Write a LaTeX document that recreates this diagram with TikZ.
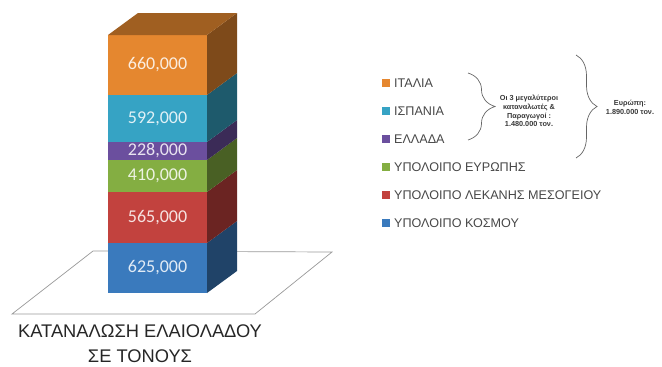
\documentclass[tikz,border=0pt]{standalone}
\usepackage{fontspec}
\setmainfont{Liberation Sans}
\newfontfamily\numfont{Carlito}
\usetikzlibrary{positioning,decorations.pathreplacing}
\definecolor{ita}{HTML}{E5872F}
\definecolor{isp}{HTML}{36A3C4}
\definecolor{ell}{HTML}{6B4F9E}
\definecolor{eur}{HTML}{84AE42}
\definecolor{mes}{HTML}{C2423E}
\definecolor{kos}{HTML}{3A7ABD}
\tikzset{
  floorln/.style={draw=gray!80, line width=0.7pt},
  val/.style={font=\numfont\fontsize{18}{18}\selectfont},
  legsq/.style={minimum size=7.5pt, inner sep=0pt},
  legtxt/.style={font=\fontsize{12.6}{12.6}\selectfont, text=black!72, inner sep=0pt},
  note/.style={font=\bfseries\fontsize{7.3}{8.8}\selectfont, align=center, text=black!78},
  brc/.style={decorate, decoration={brace, amplitude=#1}, draw=black!60, line width=0.7pt}
}
\begin{document}
\begin{tikzpicture}[x=1pt,y=-1pt]
  \useasboundingbox (0,0) rectangle (662,367);
  \filldraw[floorln, fill=white] (93,251) -- (332,252) -- (255,314) -- (12,314) -- cycle;
  \foreach \ya/\yb/\c/\v [count=\i] in {243/293/kos/{625,000}, 192/243/mes/{565,000},
      160/192/eur/{410,000}, 142/160/ell/{228,000}, 95/142/isp/{592,000}, 35/95/ita/{660,000}} {
    \fill[\c] (108,\ya) rectangle (207,\yb);
    \fill[\c!55!black] (207,\ya) -- ++(30,-22) -- (237,\yb-22) -- (207,\yb) -- cycle;
    \node[val, text=white!85!\c] (v\i) at (157.5,{(\ya+\yb)/2}) {\v};
  }
  \fill[ita!70!black] (108,35) -- (138,13) -- (237,13) -- (207,35) -- cycle;
  \node[font=\fontsize{18.3}{25}\selectfont, align=center, text=black!85] (title) at (140,344)
    {ΚΑΤΑΝΑΛΩΣΗ ΕΛΑΙΟΛΑΔΟΥ\\ΣΕ ΤΟΝΟΥΣ};
  \foreach \c/\t [count=\i] in {ita/ΙΤΑΛΙΑ, isp/ΙΣΠΑΝΙΑ, ell/ΕΛΛΑΔΑ, eur/ΥΠΟΛΟΙΠΟ ΕΥΡΩΠΗΣ,
      mes/ΥΠΟΛΟΙΠΟ ΛΕΚΑΝΗΣ ΜΕΣΟΓΕΙΟΥ, kos/ΥΠΟΛΟΙΠΟ ΚΟΣΜΟΥ} {
    \node[legsq, fill=\c] (sq\i) at (386,{83+28*(\i-1)}) {};
    \node[legtxt, right=4pt of sq\i] (lg\i) {\t};
  }
  \coordinate (b1a) at (468,73);
  \coordinate (b1b) at (468,140);
  \draw[brc=27] (b1a) -- (b1b);
  \node[note] (top3) at (529,111) {Οι 3 μεγαλύτεροι\\καταναλωτές \&\\Παραγωγοί :\\1.480.000 τον.};
  \coordinate (b2a) at (576,55);
  \coordinate (b2b) at (576,158);
  \draw[brc=21] (b2a) -- (b2b);
  \node[note] (europe) at (630,107) {Ευρώπη:\\1.890.000 τον.};
\end{tikzpicture}
\end{document}
